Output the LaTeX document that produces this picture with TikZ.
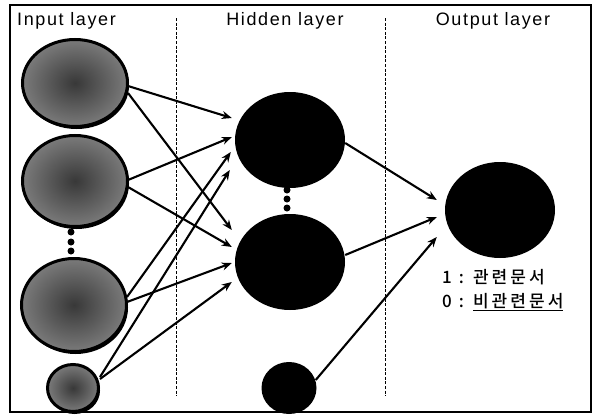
\documentclass[tikz,border=0pt]{standalone}
\usepackage{fontspec}
\setmainfont{Liberation Sans}[LetterSpace=9]
\newfontfamily\krfont{Noto Sans CJK KR Medium}[LetterSpace=18]
\usetikzlibrary{shapes.geometric,arrows.meta,shadows}
\begin{document}
\begin{tikzpicture}[x=1pt,y=-1pt,
  every node/.style={inner sep=0pt},
  title/.style={font=\fontsize{18}{20}\selectfont},
  lbl/.style={font=\krfont\fontsize{17}{19}\selectfont, anchor=west},
  inunit/.style={ellipse, draw=black, line width=3pt,
    inner color=black!78, outer color=black!52,
    drop shadow={shadow xshift=1.5pt, shadow yshift=-2.5pt, opacity=1, fill=black}},
  hidunit/.style={ellipse, fill=black},
  dot/.style={circle, fill=black, minimum size=7pt},
  conn/.style={line width=2.1pt, -{Stealth[length=10pt,width=8pt]}},
  divider/.style={line width=1pt, dash pattern=on 3pt off 1.6pt},
  frame/.style={line width=2.2pt}]

\useasboundingbox (0,0) rectangle (595,415);
\fill[white] (0,0) rectangle (595,415);

% layer dividers
\draw[divider] (176,18) -- (176,396);
\draw[divider] (385,18) -- (385,396);

% layer titles
\node[title, anchor=west] (tin) at (17,21) {Input layer};
\node[title] (thid) at (285,21) {Hidden layer};
\node[title] (tout) at (493,21) {Output layer};

% input units
\node[inunit, minimum width=105pt, minimum height=87pt] (i1) at (75,83) {};
\node[inunit, minimum width=105pt, minimum height=91pt] (i2) at (75,181) {};
\node[inunit, minimum width=105pt, minimum height=93pt] (i3) at (74,305) {};
\node[inunit, minimum width=51pt, minimum height=47pt] (ib) at (73,388) {};
\node[dot] (di1) at (71,232) {};
\node[dot] (di2) at (71,242) {};
\node[dot] (di3) at (71,251) {};

% hidden units
\node[hidunit, minimum width=110pt, minimum height=96pt] (h1) at (290,140) {};
\node[hidunit, minimum width=110pt, minimum height=96pt] (h2) at (290,262) {};
\node[hidunit, minimum width=55pt, minimum height=52pt] (hb) at (289,388) {};
\node[dot] (dh1) at (287,190) {};
\node[dot] (dh2) at (287,199) {};
\node[dot] (dh3) at (287,208) {};

% output unit
\node[hidunit, minimum width=110pt, minimum height=96pt] (o) at (500,210) {};

% input -> hidden
\draw[conn] ([shift={(-1,3)}]i1.east) -- ([shift={(-3,-22)}]h1.west);
\draw[conn] ([shift={(-1,10)}]i1.east) -- ([shift={(-3,-32)}]h2.west);
\draw[conn] ([shift={(-1,-1)}]i2.east) -- ([shift={(-3,-3)}]h1.west);
\draw[conn] ([shift={(-1,6)}]i2.east) -- ([shift={(-3,-15)}]h2.west);
\draw[conn] ([shift={(-1,-8)}]i3.east) -- ([shift={(-4,12)}]h1.west);
\draw[conn] ([shift={(-1,-3)}]i3.east) -- ([shift={(-3,1)}]h2.west);
\draw[conn] ([shift={(0,-11)}]ib.east) -- ([shift={(-5,30)}]h1.west);
\draw[conn] ([shift={(0,-9)}]ib.east) -- ([shift={(-3,20)}]h2.west);

% hidden -> output
\draw[conn] ([shift={(0,3)}]h1.east) -- ([shift={(-8,-10)}]o.west);
\draw[conn] ([shift={(0,-7)}]h2.east) -- ([shift={(-8,7)}]o.west);
\draw[conn] ([shift={(-1,-8)}]hb.east) -- ([shift={(-8,27)}]o.west);

% output coding
\node[lbl] (l1) at (442,277) {1 : 관련문서};
\node[lbl] (l0) at (442,302) {0 : \underline{비관련문서}};

% frame
\draw[frame] (10,5) rectangle (591,412);
\end{tikzpicture}
\end{document}
